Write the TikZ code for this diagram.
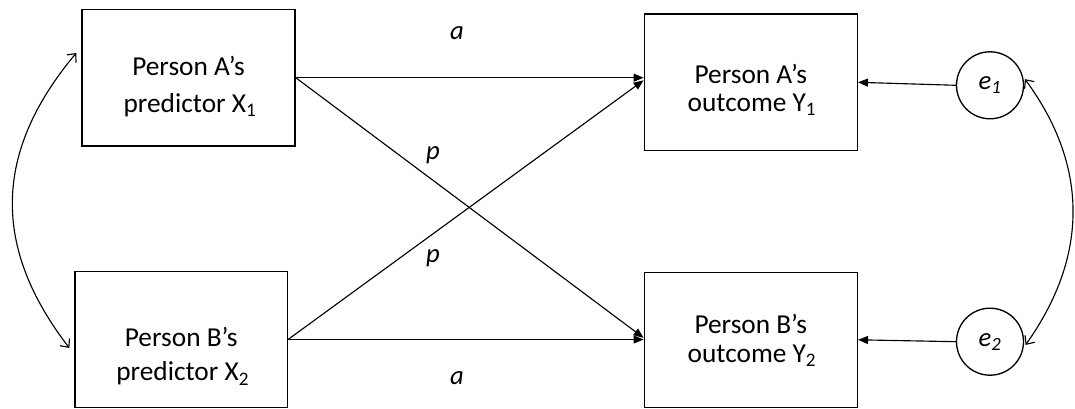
\documentclass[tikz,border=0pt]{standalone}
\usepackage{fontspec}
\setmainfont{Carlito}
\usetikzlibrary{arrows.meta,calc}
\begin{document}
\begin{tikzpicture}[x=0.75pt,y=-0.75pt,
  box/.style={draw, line width=1.1pt, minimum width=159.75pt, minimum height=102.5pt, inner sep=0pt},
  circ/.style={draw, circle, line width=1pt, minimum size=50.25pt, inner sep=0pt, font=\fontsize{20}{24}\selectfont\itshape},
  txt/.style={anchor=base, inner sep=0pt, font=\fontsize{20.5}{24}\selectfont},
  lab/.style={inner sep=0pt, font=\fontsize{20}{24}\selectfont\itshape},
  arr/.style={line width=0.85pt, -{Triangle[length=7.5pt,width=6pt]}},
  cov/.style={line width=0.85pt, {Straight Barb[length=5pt,width=9pt]}-{Straight Barb[length=5pt,width=9pt]}}
]
\useasboundingbox (0,0) rectangle (1075,409);

% boxes
\node[box] (x1) at (188.5,77.7) {};
\node[box, minimum width=159.2pt, minimum height=101.7pt] (x2) at (181.2,339.5) {};
\node[box] (y1) at (750.8,82.3) {};
\node[box, minimum height=101.3pt] (y2) at (750.8,339.8) {};

% box texts
\node[txt] (x1a) at (188.5,75.7) {Person A’s};
\node[txt] (x1b) at (190,112.3) {predictor X\textsubscript{1}};
\node[txt] (x2a) at (181.2,346.7) {Person B’s};
\node[txt] (x2b) at (182.7,381) {predictor X\textsubscript{2}};
\node[txt] (y1a) at (750.8,83.3) {Person A’s};
\node[txt] (y1b) at (752,111.7) {outcome Y\textsubscript{1}};
\node[txt] (y2a) at (750.8,334) {Person B’s};
\node[txt] (y2b) at (752,362.3) {outcome Y\textsubscript{2}};

% error terms
\node[circ] (e1) at (990,85.3) {e\textsubscript{1}};
\node[circ] (e2) at (990,341.7) {e\textsubscript{2}};

% paths
\draw[arr] (x1.east) -- (x1.east -| y1.west);
\draw[arr] (x1.east) -- ($(y2.west)+(0,-2)$);
\draw[arr] (x2.east) -- ($(y1.west)+(0,-2)$);
\draw[arr] (x2.east) -- (x2.east -| y2.west);
\draw[arr] (e1.west) -- (y1.east);
\draw[arr] (e2.west) -- (y2.east);

% covariances
\draw[cov] ($(x1.west)+(-5,-24.7)$) .. controls (-7.5,153) and (-7.5,248) .. ($(x2.west)+(-5,8.5)$);
\draw[cov, shorten <=2.5pt, shorten >=2.5pt] (e1.15) .. controls (1088.7,166) and (1088.7,256) .. (e2.-10);

% labels
\node[lab] (la1) at (457,33) {a};
\node[lab] (lp1) at (433,155) {p};
\node[lab] (lp2) at (433,258) {p};
\node[lab] (la2) at (457,378) {a};
\end{tikzpicture}
\end{document}
